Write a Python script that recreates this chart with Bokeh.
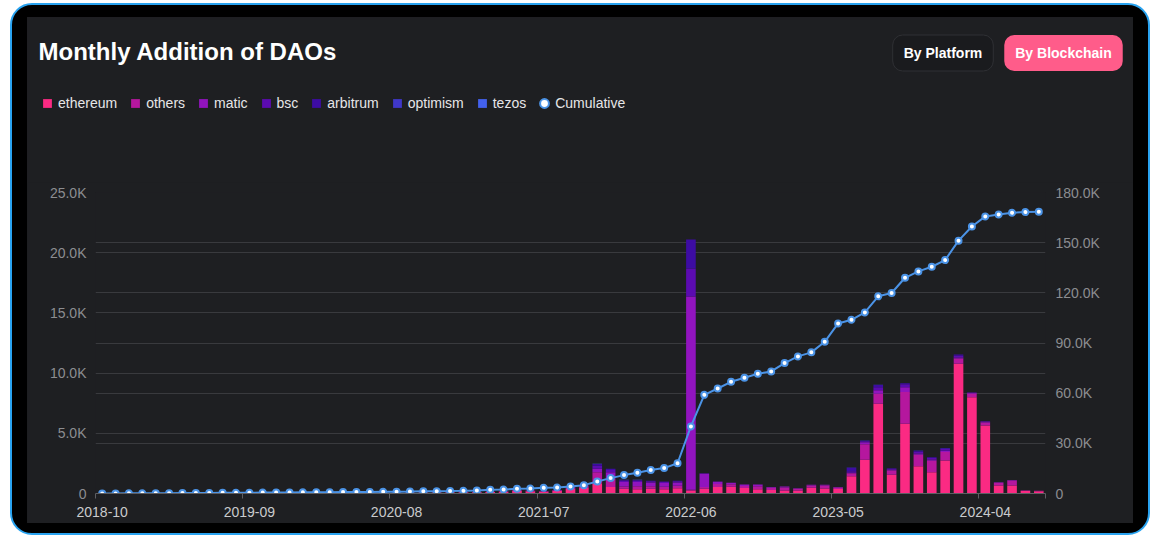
import numpy as np
from bokeh.plotting import figure
from bokeh.models import (Range1d, LinearAxis, FixedTicker, Grid, Label, Legend,
                          LegendItem, ColumnDataSource)
from bokeh.layouts import column
from bokeh.embed import file_html
from bokeh.resources import INLINE
from bokeh.core.properties import value

# ---------------- data ----------------
start_year, start_month, n_months = 2018, 10, 71
months = []
for k in range(n_months):
    mm = start_month - 1 + k
    months.append(f"{start_year + mm // 12}-{mm % 12 + 1:02d}")

ethereum = [30, 35, 30, 40, 35, 40, 45, 40, 45, 50, 45, 50,
            50, 45, 55, 50, 55, 60, 55, 60, 55, 60, 50,
            70, 80, 75, 90, 100, 110, 130, 150, 220, 180, 150, 210, 380, 450,
            860, 530, 390, 350, 390, 360, 440, 250, 390, 530, 560, 450,
            350, 300, 250, 250, 470, 420, 380, 1440, 2800, 7450, 1550, 5790,
            2270, 1770, 2740, 10770, 8000, 5650, 660, 660, 200, 180]
others = [0, 0, 0, 0, 0, 0, 0, 0, 0, 0, 0, 0,
          0, 5, 0, 5, 0, 5, 0, 5, 5, 5, 10,
          10, 10, 15, 10, 20, 20, 20, 40, 60, 50, 40, 60, 100, 150,
          900, 700, 200, 250, 220, 200, 200, 60, 150, 250, 200, 180,
          250, 170, 250, 140, 200, 250, 120, 250, 1300, 830, 350, 2630,
          950, 950, 700, 450, 280, 250, 230, 420, 50, 40]
matic = [0, 0, 0, 0, 0, 0, 0, 0, 0, 0, 0, 0,
         0, 0, 0, 0, 0, 0, 0, 0, 0, 0, 0,
         0, 0, 0, 0, 0, 0, 0, 0, 20, 20, 10, 30, 50, 60,
         290, 540, 370, 350, 300, 320, 280, 16050, 1100, 200, 130, 120,
         150, 80, 80, 50, 50, 50, 30, 30, 150, 300, 80, 400,
         100, 100, 120, 80, 60, 50, 50, 50, 0, 0]
bsc = [0, 0, 0, 0, 0, 0, 0, 0, 0, 0, 0, 0,
       0, 0, 0, 0, 0, 0, 0, 0, 0, 0, 0,
       0, 0, 0, 0, 0, 0, 0, 0, 0, 0, 0, 0, 0, 0,
       250, 180, 120, 130, 100, 90, 90, 2330, 50, 20, 0, 0,
       0, 0, 0, 0, 0, 0, 0, 120, 80, 250, 80, 250,
       150, 120, 130, 150, 50, 50, 0, 0, 0, 0]
arbitrum = [0, 0, 0, 0, 0, 0, 0, 0, 0, 0, 0, 0,
            0, 0, 0, 0, 0, 0, 0, 0, 0, 0, 0,
            0, 0, 0, 0, 0, 0, 0, 0, 0, 0, 0, 0, 0, 0,
            160, 100, 50, 50, 40, 30, 40, 2410, 0, 0, 0, 0,
            0, 0, 0, 0, 0, 0, 0, 300, 60, 180, 30, 80,
            90, 70, 70, 90, 0, 0, 0, 0, 0, 0]
optimism = [0, 0, 0, 0, 0, 0, 0, 0, 0, 0, 0, 0,
            0, 0, 0, 0, 0, 0, 0, 0, 0, 0, 0,
            0, 0, 0, 0, 0, 0, 0, 0, 0, 0, 0, 0, 0, 0,
            0, 0, 0, 0, 0, 0, 0, 0, 0, 0, 0, 0,
            0, 0, 0, 0, 0, 0, 0, 20, 10, 20, 10, 10,
            10, 10, 10, 10, 0, 0, 0, 0, 0, 0]
tezos = [0, 0, 0, 0, 0, 0, 0, 0, 0, 0, 0, 0,
         0, 0, 0, 0, 0, 0, 0, 0, 0, 0, 0,
         0, 0, 0, 0, 0, 0, 0, 0, 0, 0, 5, 0, 5, 10,
         10, 10, 5, 5, 5, 5, 5, 0, 0, 0, 0, 0,
         0, 0, 0, 0, 0, 0, 0, 0, 0, 0, 0, 0,
         0, 0, 0, 0, 0, 0, 0, 0, 0, 0]
cumulative = [30, 65, 95, 135, 170, 210, 255, 295, 340, 390, 435, 485,
              535, 580, 635, 685, 740, 800, 855, 915, 970, 1030, 1080,
              1200, 1400, 1400, 1450, 1600, 1800, 2200, 2400, 2800, 3000, 3400, 3600, 4200, 5000,
              7200, 9200, 11000, 12400, 14000, 15200, 18100, 40100, 59000, 62800, 66800, 69200,
              71600, 73000, 78000, 82000, 84400, 90700, 101700, 103900, 108300, 117900, 119900, 129000,
              132800, 135600, 139600, 151200, 159700, 165700, 166900, 167900, 168300, 168500]

series_names = ["ethereum", "others", "matic", "bsc", "arbitrum", "optimism", "tezos"]
series_colors = ["#fb2a83", "#b5179e", "#9114be", "#5b0bb0", "#3d0ca3", "#3f37c9", "#4361ee"]

left_ticks = [0, 5000, 10000, 15000, 20000, 25000]
left_labels = ["0", "5.0K", "10.0K", "15.0K", "20.0K", "25.0K"]
right_ticks = [0, 30000, 60000, 90000, 120000, 150000, 180000]
right_labels = ["0", "30.0K", "60.0K", "90.0K", "120.0K", "150.0K", "180.0K"]
label_every = 11

title_text = "Monthly Addition of DAOs"
button_texts = ["By Platform", "By Blockchain"]

# ---------------- styling ----------------
CARD = "#1e1f22"
GRID = "#393a3e"
AXIS = "#5d5e63"
YLAB = "#8c8d91"
XLAB = "#cacbcd"
BLUE = "#4b93e6"
FONT = "Liberation Sans"
W = 1106
HEAD_H = 165

# ---------------- header (title, buttons, legend) ----------------
head = figure(width=W, height=HEAD_H, x_range=Range1d(0, W), y_range=Range1d(0, HEAD_H),
              output_backend="svg", toolbar_location=None,
              x_axis_location=None, y_axis_location=None, min_border=0,
              background_fill_color=CARD, border_fill_color=CARD, outline_line_color=None)
head.frame_align = False
head.xgrid.visible = False
head.ygrid.visible = False

head.add_layout(Label(x=11, y=HEAD_H - 34, x_units="screen", y_units="screen",
                      text=title_text, text_font=FONT, text_font_style="bold",
                      text_font_size="24px", text_color="#ffffff",
                      text_align="left", text_baseline="alphabetic"))
head.add_layout(Label(x=915.5, y=HEAD_H - 35.5, x_units="screen", y_units="screen",
                      text=button_texts[0], text_font=FONT, text_font_style="bold",
                      text_font_size="14px", text_color="#ffffff",
                      text_align="center", text_baseline="middle",
                      background_fill_color="#1a1b1e", border_line_color="#2f3034",
                      border_line_width=1, border_radius=10,
                      padding=dict(left=11, right=11, top=10, bottom=10)))
head.add_layout(Label(x=1036, y=HEAD_H - 35.5, x_units="screen", y_units="screen",
                      text=button_texts[1], text_font=FONT, text_font_style="bold",
                      text_font_size="14px", text_color="#ffffff",
                      text_align="center", text_baseline="middle",
                      background_fill_color="#ff5c8a", border_line_color=None,
                      border_radius=10,
                      padding=dict(left=11, right=11, top=10, bottom=10)))

# legend proxies (one undefined point each, so nothing is drawn in the header)
nan_pt = np.array([np.nan])
items = []
for name, col in zip(series_names, series_colors):
    r = head.scatter(x=nan_pt, y=nan_pt, marker="square", size=9, fill_color=col, line_color=None)
    items.append(LegendItem(label=value(name), renderers=[r]))
rc = head.scatter(x=nan_pt, y=nan_pt, marker="circle", size=6, fill_color="white",
                  line_color=BLUE, line_width=2)
items.append(LegendItem(label=value("Cumulative"), renderers=[rc]))
legend = Legend(items=items, orientation="horizontal", location=(9, HEAD_H - 97),
                glyph_width=22, glyph_height=22, label_height=22, label_standoff=0,
                spacing=7, padding=0, margin=0, background_fill_alpha=0,
                border_line_color=None, label_text_color="#e6e6e8",
                label_text_font=FONT, label_text_font_size="14px")
head.add_layout(legend)

# ---------------- chart ----------------
idx = list(range(n_months))
src = ColumnDataSource(dict(x=idx, cum=cumulative, ethereum=ethereum, others=others,
                            matic=matic, bsc=bsc, arbitrum=arbitrum,
                            optimism=optimism, tezos=tezos))

p = figure(width=W, height=341, x_range=Range1d(-0.5, n_months - 0.5),
           y_range=Range1d(left_ticks[0], left_ticks[-1]),
           output_backend="svg", toolbar_location=None,
           min_border_left=68, min_border_right=88, min_border_top=10, min_border_bottom=30,
           background_fill_color=CARD, border_fill_color=CARD, outline_line_color=None)
p.frame_align = False
p.extra_y_ranges = {"cum": Range1d(right_ticks[0], right_ticks[-1])}

label_pos = idx[::label_every]
boundaries = [i - 0.5 for i in label_pos] + [n_months - 0.5]
xa = p.xaxis[0]
xa.ticker = FixedTicker(ticks=label_pos, minor_ticks=boundaries)
xa.major_label_overrides = {i: months[i] for i in label_pos}
xa.major_tick_line_color = None
xa.major_tick_out = 0
xa.major_tick_in = 0
xa.minor_tick_out = 5
xa.minor_tick_in = 0
xa.minor_tick_line_color = AXIS
xa.axis_line_color = AXIS
xa.major_label_text_color = XLAB
xa.major_label_text_font = FONT
xa.major_label_text_font_size = "14px"
xa.major_label_standoff = 8

ya = p.yaxis[0]
ya.ticker = FixedTicker(ticks=left_ticks)
ya.major_label_overrides = dict(zip(left_ticks, left_labels))
ya.axis_line_color = None
ya.major_tick_line_color = None
ya.minor_tick_line_color = None
ya.major_label_text_color = YLAB
ya.major_label_text_font = FONT
ya.major_label_text_font_size = "14px"
ya.major_label_standoff = 3

ra = LinearAxis(y_range_name="cum", ticker=FixedTicker(ticks=right_ticks),
                major_label_overrides=dict(zip(right_ticks, right_labels)),
                axis_line_color=None, major_tick_line_color=None, minor_tick_line_color=None,
                major_label_text_color=YLAB, major_label_text_font=FONT,
                major_label_text_font_size="14px", major_label_standoff=4)
p.add_layout(ra, "right")

p.xgrid.visible = False
p.ygrid[0].ticker = FixedTicker(ticks=left_ticks[1:])
p.ygrid[0].grid_line_color = GRID
p.add_layout(Grid(dimension=1, ticker=FixedTicker(ticks=right_ticks[1:]), y_range_name="cum",
                  grid_line_color=GRID))

p.vbar_stack(series_names, x="x", width=0.72, source=src,
             fill_color=series_colors, line_color=None)

p.line("x", "cum", source=src, y_range_name="cum", line_color=BLUE, line_width=2)
p.scatter("x", "cum", source=src, y_range_name="cum", size=6,
          fill_color="white", line_color=BLUE, line_width=2)

inner = column(head, p, spacing=0, styles={"background-color": CARD})
layout = column(inner, styles={"background-color": "#000000",
                               "border": "2px solid #29a3f0",
                               "border-radius": "22px",
                               "padding": "12px 15px 10px 15px",
                               "margin": "3px 0px -20px 10px"})

open("out.html", "w").write(file_html(layout, INLINE))
